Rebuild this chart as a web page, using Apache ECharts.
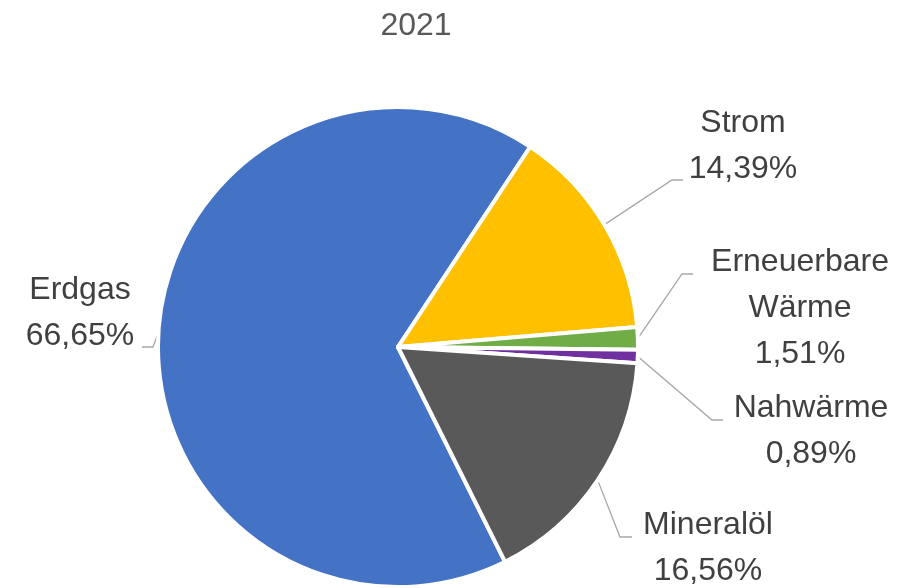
<!DOCTYPE html>
<html>
<head>
<meta charset="utf-8">
<script src="https://cdn.jsdelivr.net/npm/echarts@6/dist/echarts.min.js"></script>
<style>
html,body{margin:0;padding:0;background:#fff;}
#chart{width:917px;height:588px;}
</style>
</head>
<body>
<div id="chart"></div>
<script>
// ---- data ----
const title = '2021';
const categories = ['Erdgas', 'Strom', 'Erneuerbare Wärme', 'Nahwärme', 'Mineralöl'];
const shares = [66.65, 14.39, 1.51, 0.89, 16.56];

// ---- style / layout (not data) ----
const colors = ['#4472C4', '#FFC000', '#70AD47', '#7030A0', '#595959'];
// label block centre and leader end point for each slice
const labelCenters = [[80, 313], [743, 146], [800, 308], [811, 431], [708, 548]];
const leaderEnds = [[142, 347], [683, 180], [693, 274], [723, 420], [632, 537]];
const leaderBendOffset = [11, -11, -11, -11, -12];

const chart = echarts.init(document.getElementById('chart'), null, {renderer: 'canvas'});
chart.setOption({
  backgroundColor: '#ffffff',
  animation: false,
  title: {
    text: title,
    left: 411,
    top: 5,
    textAlign: 'center',
    textStyle: {
      fontFamily: 'Liberation Sans',
      fontSize: 32,
      fontWeight: 'normal',
      color: '#595959',
      lineHeight: 32
    }
  },
  series: [{
    type: 'pie',
    center: [398, 347],
    radius: 240,
    startAngle: -63.5,
    clockwise: true,
    avoidLabelOverlap: false,
    data: categories.map((c, i) => ({name: c, value: shares[i], itemStyle: {color: colors[i]}})),
    itemStyle: {borderColor: '#ffffff', borderWidth: 4},
    label: {
      show: true,
      position: 'outside',
      fontFamily: 'Liberation Sans',
      fontSize: 32,
      lineHeight: 46,
      color: '#404040',
      align: 'center',
      formatter: p => p.name.replace(' ', '\n') + '\n' + p.value.toFixed(2).replace('.', ',') + '%'
    },
    labelLine: {
      show: true,
      length: 20,
      length2: 10,
      lineStyle: {color: '#A6A6A6', width: 1.3}
    },
    labelLayout: function (params) {
      const i = params.dataIndex;
      const end = leaderEnds[i];
      const start = params.labelLinePoints ? params.labelLinePoints[0] : end;
      return {
        x: labelCenters[i][0],
        y: labelCenters[i][1],
        align: 'center',
        verticalAlign: 'middle',
        labelLinePoints: [start, [end[0] + leaderBendOffset[i], end[1]], end]
      };
    },
    emphasis: {disabled: true}
  }]
});
</script>
</body>
</html>
